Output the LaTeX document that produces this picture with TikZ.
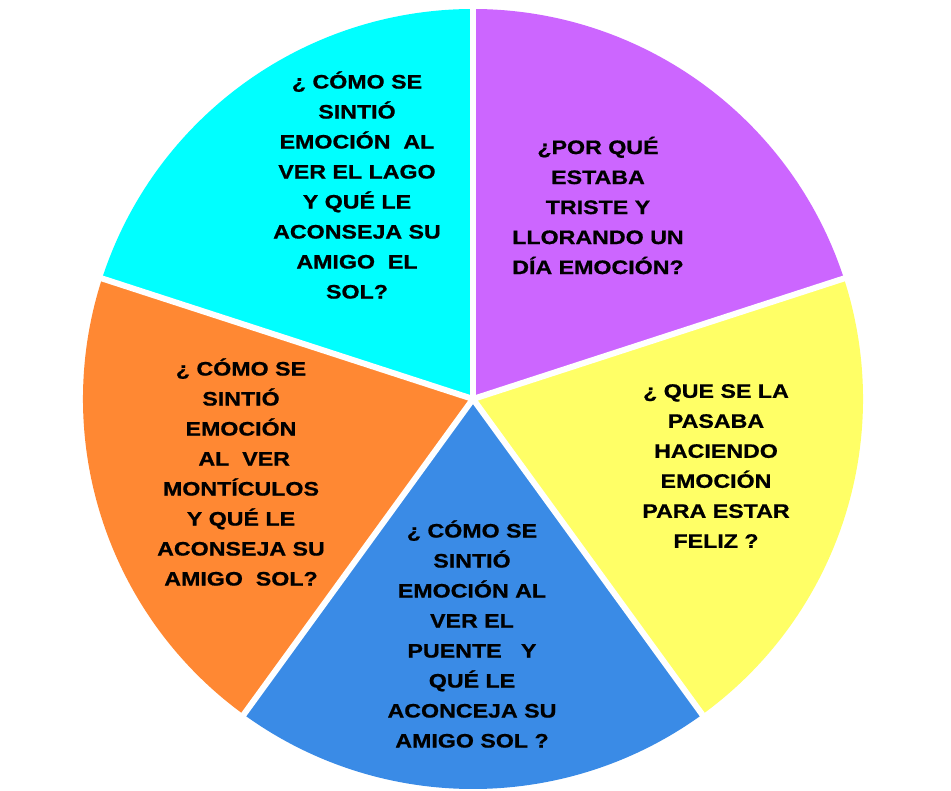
\documentclass[tikz,border=0pt]{standalone}
\usepackage{fontspec}
\newfontfamily\labfont{Liberation Sans}[FakeStretch=1.19, BoldFeatures={FakeBold=0.8}]
\definecolor{cPurple}{HTML}{CC66FF}
\definecolor{cYellow}{HTML}{FFFF66}
\definecolor{cBlue}{HTML}{3A8BE6}
\definecolor{cOrange}{HTML}{FF8833}
\definecolor{cCyan}{HTML}{00FFFF}
\tikzset{
  lbl/.style={align=center, inner sep=0pt, text=black,
    font=\labfont\bfseries\fontsize{19.5}{30}\selectfont},
  gap/.style={draw=white, line width=6pt},
}
\begin{document}
\begin{tikzpicture}[x=1pt,y=1pt]
\useasboundingbox (0,0) rectangle (951,-791);
\coordinate (c) at (473,-399);
\def\R{390}
\fill[cPurple] (c) -- ++(18:\R) arc[start angle=18, end angle=90, radius=\R] -- cycle;
\fill[cYellow] (c) -- ++(-54:\R) arc[start angle=-54, end angle=18, radius=\R] -- cycle;
\fill[cBlue] (c) -- ++(-126:\R) arc[start angle=-126, end angle=-54, radius=\R] -- cycle;
\fill[cOrange] (c) -- ++(162:\R) arc[start angle=162, end angle=234, radius=\R] -- cycle;
\fill[cCyan] (c) -- ++(90:\R) arc[start angle=90, end angle=162, radius=\R] -- cycle;
\foreach \a in {90,18,-54,-126,162}{
  \draw[gap] (c) -- ++(\a:\R+6);
}
\node[lbl] (purple) at (598,-205.5) {¿POR QUÉ\\ESTABA\\TRISTE Y\\LLORANDO UN\\DÍA EMOCIÓN?};
\node[lbl] (yellow) at (716,-466) {¿ QUE SE LA\\PASABA\\HACIENDO\\EMOCIÓN\\PARA ESTAR\\FELIZ ?};
\node[lbl] (blue) at (472,-634) {¿ CÓMO SE\\SINTIÓ\\EMOCIÓN AL\\VER EL\\PUENTE\ \ \ Y\\QUÉ LE\\ACONCEJA SU\\AMIGO SOL ?};
\node[lbl] (orange) at (241,-472) {¿ CÓMO SE\\SINTIÓ\\EMOCIÓN\\\ AL\ \ VER\\MONTÍCULOS\\Y QUÉ LE\\ACONSEJA SU\\AMIGO\ \ SOL?};
\node[lbl] (cyan) at (357,-185) {¿ CÓMO SE\\SINTIÓ\\EMOCIÓN\ \ AL\\VER EL LAGO\\Y QUÉ LE\\ACONSEJA SU\\AMIGO\ \ EL\\SOL?};
\end{tikzpicture}
\end{document}
